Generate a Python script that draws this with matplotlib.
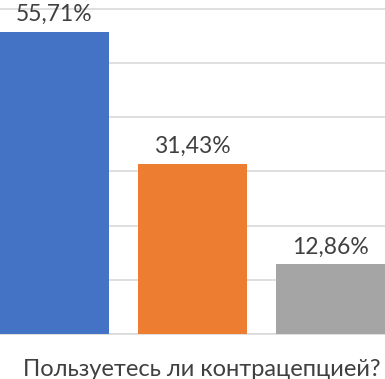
import matplotlib
matplotlib.use("Agg")
import matplotlib.pyplot as plt

# --- Data ---
categories = ["Да", "Нет", "Иногда"]
values = [55.71, 31.43, 12.86]
value_labels = ["55,71%", "31,43%", "12,86%"]
colors = ["#4472c4", "#ed7d31", "#a5a5a5"]
title = "Пользуетесь ли контрацепцией?"

plt.rcParams["font.family"] = ["Lato", "DejaVu Sans"]

fig = plt.figure(figsize=(3.85, 3.79), dpi=100)
ax = fig.add_axes([0, 45 / 379, 1, 334 / 379])

x = range(len(values))
bars = ax.bar(x, values, width=0.79, color=colors, zorder=3)
ax.bar_label(bars, labels=value_labels, padding=5, fontsize=16.5, color="#404040")

ax.set_xlim(-0.395, 2.395)
ax.set_ylim(0, 61.66)
ax.set_yticks(range(0, 70, 10))
ax.yaxis.grid(True, color="#d9d9d9", linewidth=1.2, zorder=0)
ax.tick_params(left=False, bottom=False, labelleft=False, labelbottom=False)
for side in ["top", "right", "left"]:
    ax.spines[side].set_visible(False)
ax.spines["bottom"].set_color("#d9d9d9")
ax.spines["bottom"].set_linewidth(1.2)

fig.text(0.523, 9 / 379, title, ha="center", va="center", fontsize=17, color="#404040")

fig.savefig("out.png", dpi=100)
